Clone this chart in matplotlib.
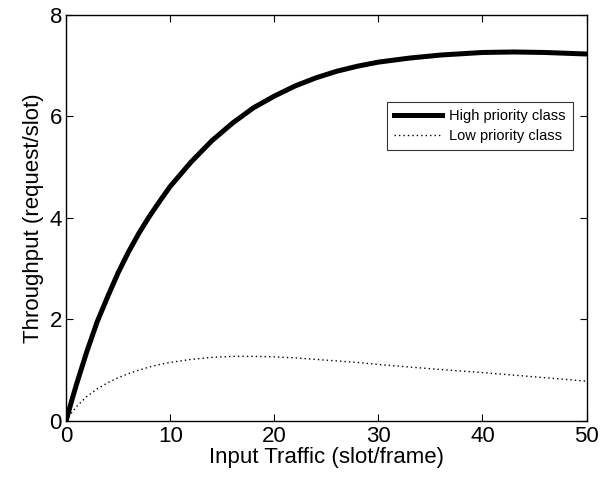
import matplotlib
matplotlib.use("Agg")
import matplotlib.pyplot as plt

# 입력 트래픽 (slot/frame)
traffic = [0, 0.5, 1, 2, 3, 4, 5, 6, 7, 8, 9, 10, 12, 14, 16, 18, 20, 22, 24, 26,
           28, 30, 33, 36, 40, 43, 46, 50]
# 고우선순위 클래스 처리율 (request/slot)
high_thr = [0, 0.37, 0.72, 1.37, 1.96, 2.45, 2.92, 3.33, 3.70, 4.03, 4.33, 4.62,
            5.10, 5.52, 5.87, 6.17, 6.40, 6.60, 6.76, 6.89, 6.99, 7.07, 7.15,
            7.21, 7.26, 7.27, 7.26, 7.23]
# 저우선순위 클래스 처리율
low_thr = [0, 0.15, 0.28, 0.48, 0.63, 0.75, 0.85, 0.93, 1.00, 1.06, 1.11, 1.15,
           1.21, 1.25, 1.27, 1.27, 1.26, 1.24, 1.21, 1.18, 1.15, 1.11, 1.06,
           1.01, 0.95, 0.90, 0.85, 0.78]

xticks = [0, 10, 20, 30, 40, 50]
yticks = [0, 2, 4, 6, 8]

plt.rcParams["font.family"] = ["Liberation Sans", "DejaVu Sans"]

fig = plt.figure(figsize=(6.01, 4.82), dpi=100)
ax = fig.add_axes([0.110, 0.127, 0.866, 0.842])

ax.plot(traffic, high_thr, color="black", lw=3.6, label="High priority class")
ax.plot(traffic, low_thr, color="black", lw=1.0, linestyle=(0, (1, 2.2)),
        label="Low priority class")

ax.set_xlim(0, 50); ax.set_ylim(0, 8)
ax.set_xticks(xticks); ax.set_yticks(yticks)
ax.tick_params(direction="in", top=True, right=True, length=5, width=0.8,
               labelsize=16)
ax.tick_params(axis="x", pad=4)
ax.tick_params(axis="y", pad=3)
for s in ax.spines.values():
    s.set_linewidth(1.0)
ax.set_xlabel("Input Traffic (slot/frame)", fontsize=16, labelpad=0)
ax.set_ylabel("Throughput (request/slot)", fontsize=16, labelpad=4)

leg = ax.legend(loc="upper right", bbox_to_anchor=(0.973, 0.785), fontsize=10.5,
                frameon=True, fancybox=False, edgecolor="black",
                handlelength=3.3, borderpad=0.45, labelspacing=0.45,
                handletextpad=0.5, borderaxespad=0)
leg.get_frame().set_linewidth(0.8)

fig.savefig("out.png", dpi=100)
